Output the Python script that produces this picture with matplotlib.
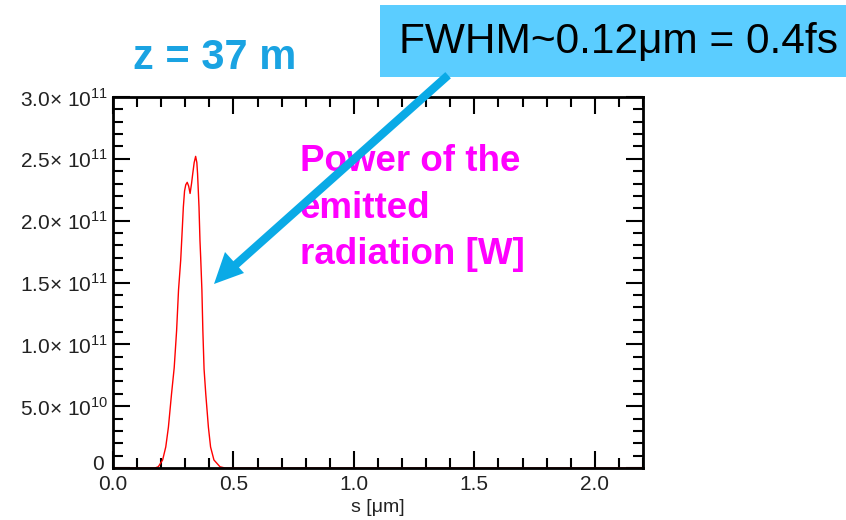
import numpy as np
import matplotlib.pyplot as plt
import matplotlib.transforms as mtransforms
from matplotlib.ticker import MultipleLocator

plt.rcParams['font.family'] = ['Liberation Sans', 'DejaVu Sans']
plt.rcParams['mathtext.fontset'] = 'custom'
plt.rcParams['mathtext.rm'] = 'Liberation Sans'

# power profile: s [um], P [W]
s = [0.0, 0.174, 0.188, 0.206, 0.219, 0.230, 0.243, 0.254, 0.264, 0.272, 0.281, 0.288,
     0.292, 0.297, 0.302, 0.308, 0.314, 0.320, 0.326, 0.331, 0.337, 0.343, 0.348, 0.351,
     0.357, 0.361, 0.364, 0.369, 0.373, 0.378, 0.385, 0.396, 0.405, 0.419, 0.444, 0.465, 2.2]
P = [0.0, 0.0, 0.01e11, 0.065e11, 0.17e11, 0.33e11, 0.60e11, 0.81e11, 1.11e11, 1.44e11, 1.68e11, 1.95e11,
     2.11e11, 2.24e11, 2.29e11, 2.31e11, 2.28e11, 2.22e11, 2.30e11, 2.38e11, 2.47e11, 2.52e11, 2.47e11, 2.38e11,
     2.11e11, 1.84e11, 1.70e11, 1.44e11, 1.11e11, 0.80e11, 0.60e11, 0.33e11, 0.17e11, 0.065e11, 0.01e11, 0.0, 0.0]

yticks = [0, 5e10, 1e11, 1.5e11, 2e11, 2.5e11, 3e11]
ylabels = ['0', r'5.0$\times$ 10$^{10}$', r'1.0$\times$ 10$^{11}$', r'1.5$\times$ 10$^{11}$',
           r'2.0$\times$ 10$^{11}$', r'2.5$\times$ 10$^{11}$', r'3.0$\times$ 10$^{11}$']
xticks = [0.0, 0.5, 1.0, 1.5, 2.0]
xlabels = ['0.0', '0.5', '1.0', '1.5', '2.0']

fig = plt.figure(figsize=(8.46, 5.2), dpi=100)
ax = fig.add_axes([113/846, 52/520, 530/846, 371/520])
ax.plot(s, P, color='red', lw=1.0)
ax.set_xlim(0, 2.2)
ax.set_ylim(0, 3e11)
ax.set_yticks(yticks)
ax.set_yticklabels(ylabels)
ax.set_xticks(xticks)
ax.set_xticklabels(xlabels)
ax.xaxis.set_minor_locator(MultipleLocator(0.1))
ax.yaxis.set_minor_locator(MultipleLocator(1e10))
ax.tick_params(which='both', direction='in', top=True, right=True, width=1.5,
               labelsize=15, labelcolor='#222222')
ax.tick_params(which='major', length=12)
ax.tick_params(which='minor', length=7)
ax.tick_params(axis='x', pad=5)
for sp in ax.spines.values():
    sp.set_linewidth(2)
ax.set_xlabel('s [μm]', fontsize=14, labelpad=4, color='#222222')

# nudge the "0" y label up and left like the original
lab0 = ax.get_yticklabels()[0]
lab0.set_transform(lab0.get_transform() + mtransforms.ScaledTranslation(-4/100, 6/100, fig.dpi_scale_trans))

fig.text(215/846, 1 - 58/520, 'z = 37 m', color='#1AA3E2', fontsize=30, fontweight='bold',
         ha='center', va='center')
fig.patches.append(plt.Rectangle((380/846, 1 - 77/520), 466/846, 72/520, transform=fig.transFigure,
                                 facecolor='#5BCDFF', edgecolor='none', zorder=1))
fig.text(618/846, 1 - 42/520, 'FWHM~0.12μm = 0.4fs', color='black', fontsize=30.5,
         ha='center', va='center', zorder=2)
fig.text(300/846, 1 - 208/520, 'Power of the\nemitted\nradiation [W]', color='#FF00FF',
         fontsize=26.5, fontweight='bold', ha='left', va='center', linespacing=1.42, zorder=3)
fig.add_artist(plt.Line2D([445/846, 232/846], [1 - 78/520, 1 - 268/520], transform=fig.transFigure,
                          color='#0AAAE6', lw=6, zorder=4))
fig.patches.append(plt.Polygon([(214/846, 1 - 284/520), (225/846, 1 - 252/520), (244/846, 1 - 273/520)],
                               closed=True, transform=fig.transFigure, facecolor='#0AAAE6',
                               edgecolor='none', zorder=4))

fig.savefig('out.png', dpi=100)
